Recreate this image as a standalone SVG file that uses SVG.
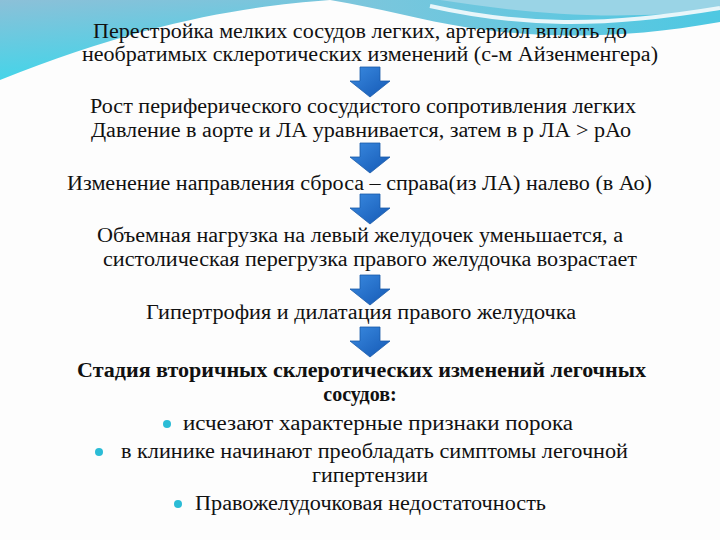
<svg xmlns="http://www.w3.org/2000/svg" width="720" height="540" viewBox="0 0 720 540">
<defs>
<linearGradient id="bgL" x1="0" y1="0" x2="0.3" y2="1">
<stop offset="0" stop-color="#8cc0d8"/>
<stop offset="1" stop-color="#3fd6ea"/>
</linearGradient>
<linearGradient id="bgR" x1="0" y1="0" x2="1" y2="0">
<stop offset="0" stop-color="#7fc6dc"/>
<stop offset="1" stop-color="#4ec8e2"/>
</linearGradient>
<linearGradient id="arr" x1="0" y1="0" x2="1" y2="1">
<stop offset="0" stop-color="#3a8ae0"/>
<stop offset="1" stop-color="#1458b4"/>
</linearGradient>
<path id="dn" d="M-10,0 H10 V14 H20 L0,30 L-20,14 H-10 Z" fill="url(#arr)" stroke="#1a5aa8" stroke-width="0.8"/>
<circle id="bul" r="4" fill="#2bbcd6"/>
</defs>
<rect width="720" height="540" fill="#fdfdfd"/>
<g id="background">
<path d="M0,0 H330 C250,6 150,20 0,80 Z" fill="url(#bgL)"/>
<path d="M330,0 H720 V22 C620,40 540,38 470,28 C420,20 380,8 330,0 Z" fill="url(#bgR)"/>
<path d="M440,0 C520,12 600,22 720,10 V0 Z" fill="#9ad4e6"/>
<path d="M430,6 C520,26 600,28 720,8" fill="none" stroke="#e8f6fa" stroke-width="4"/>
</g>
<g id="step1">
<text font-family="Liberation Serif, Times New Roman, serif" font-size="20" fill="#111" text-anchor="middle" x="360" y="38" textLength="534" lengthAdjust="spacingAndGlyphs">Перестройка мелких сосудов легких, артериол вплоть до</text>
<text font-family="Liberation Serif, Times New Roman, serif" font-size="20" fill="#111" text-anchor="middle" x="370" y="61" textLength="576" lengthAdjust="spacingAndGlyphs">необратимых склеротических изменений (с-м Айзенменгера)</text>
</g>
<g id="step2">
<text font-family="Liberation Serif, Times New Roman, serif" font-size="20" fill="#111" text-anchor="middle" x="363" y="113" textLength="546" lengthAdjust="spacingAndGlyphs">Рост периферического сосудистого сопротивления легких</text>
<text font-family="Liberation Serif, Times New Roman, serif" font-size="20" fill="#111" text-anchor="middle" x="361" y="137" textLength="540" lengthAdjust="spacingAndGlyphs">Давление в аорте и ЛА уравнивается, затем в р ЛА &gt; рАо</text>
</g>
<g id="step3">
<text font-family="Liberation Serif, Times New Roman, serif" font-size="20" fill="#111" text-anchor="middle" x="359.5" y="190" textLength="585" lengthAdjust="spacingAndGlyphs">Изменение направления сброса – справа(из ЛА) налево (в Ао)</text>
</g>
<g id="step4">
<text font-family="Liberation Serif, Times New Roman, serif" font-size="20" fill="#111" text-anchor="middle" x="360" y="242" textLength="526" lengthAdjust="spacingAndGlyphs">Объемная нагрузка на левый желудочек уменьшается, а</text>
<text font-family="Liberation Serif, Times New Roman, serif" font-size="20" fill="#111" text-anchor="middle" x="370" y="266" textLength="534" lengthAdjust="spacingAndGlyphs">систолическая перегрузка правого желудочка возрастает</text>
</g>
<g id="step5">
<text font-family="Liberation Serif, Times New Roman, serif" font-size="20" fill="#111" text-anchor="middle" x="361" y="319" textLength="430" lengthAdjust="spacingAndGlyphs">Гипертрофия и дилатация правого желудочка</text>
</g>
<g id="step6">
<text font-family="Liberation Serif, Times New Roman, serif" font-size="20" fill="#111" font-weight="bold" text-anchor="middle" x="361.5" y="377" textLength="569" lengthAdjust="spacingAndGlyphs">Стадия вторичных склеротических изменений легочных</text>
<text font-family="Liberation Serif, Times New Roman, serif" font-size="20" fill="#111" font-weight="bold" text-anchor="middle" x="360" y="401">сосудов:</text>
<use href="#bul" x="167" y="424"/>
<text font-family="Liberation Serif, Times New Roman, serif" font-size="20" fill="#111" x="183" y="430" textLength="390" lengthAdjust="spacingAndGlyphs">исчезают характерные признаки порока</text>
<use href="#bul" x="99" y="452"/>
<text font-family="Liberation Serif, Times New Roman, serif" font-size="20" fill="#111" x="121" y="458" textLength="507" lengthAdjust="spacingAndGlyphs">в клинике начинают преобладать симптомы легочной</text>
<text font-family="Liberation Serif, Times New Roman, serif" font-size="20" fill="#111" text-anchor="middle" x="370" y="482" textLength="116" lengthAdjust="spacingAndGlyphs">гипертензии</text>
<use href="#bul" x="178" y="504"/>
<text font-family="Liberation Serif, Times New Roman, serif" font-size="20" fill="#111" x="195" y="510" textLength="351" lengthAdjust="spacingAndGlyphs">Правожелудочковая недостаточность</text>
</g>
<g id="connectors">
<use href="#dn" x="370" y="67"/>
<use href="#dn" x="370" y="143"/>
<use href="#dn" x="370" y="194"/>
<use href="#dn" x="370" y="275"/>
<use href="#dn" x="370" y="327"/>
</g>
</svg>
